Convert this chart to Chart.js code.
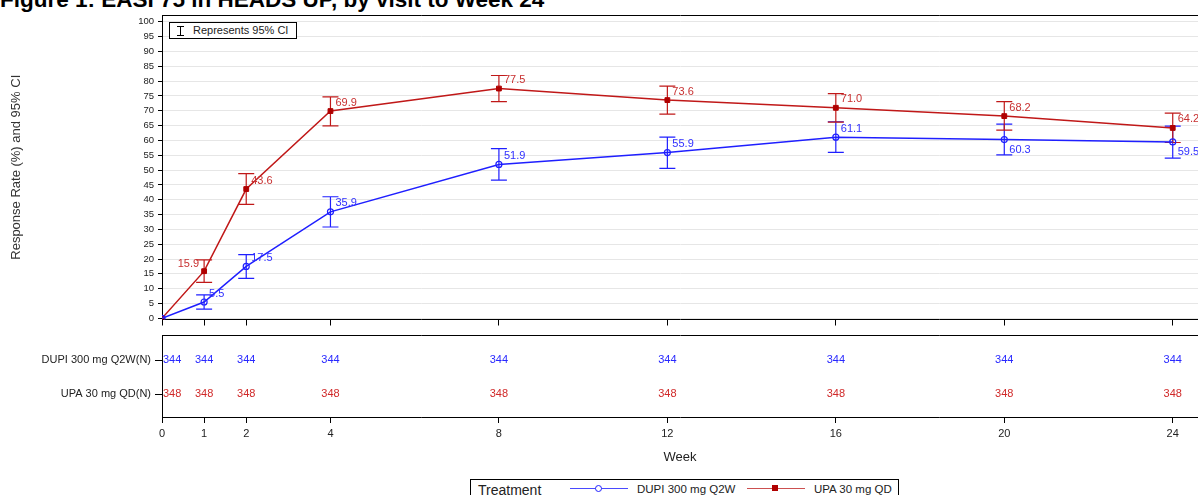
<!DOCTYPE html>
<html>
<head>
<meta charset="utf-8">
<script src="https://cdn.jsdelivr.net/npm/chart.js@4.4.1/dist/chart.umd.min.js"></script>
<style>
body { margin:0; width:1198px; height:495px; overflow:hidden; background:#fff; position:relative; font-family:"Liberation Sans", Arial, sans-serif; }
#titre { position:absolute; left:0; top:-11px; font-size:22.5px; line-height:22px; font-weight:bold; white-space:nowrap; color:#000; }
#courbe { position:absolute; left:0; top:0; }
#tableau { position:absolute; left:0; top:325px; }
#ci { position:absolute; left:169px; top:22px; width:126px; height:15px; border:1px solid #000; background:#fff; font-size:11px; line-height:15px; color:#222; }
#ci .barre { position:absolute; left:7px; top:3px; width:7px; height:8px; border-top:1px solid #000; border-bottom:1px solid #000; }
#ci .barre:after { content:""; position:absolute; left:3px; top:0; width:1px; height:8px; background:#000; }
#ci .txt { position:absolute; left:23px; top:0; white-space:nowrap; }
#legende { position:absolute; left:470px; top:479px; width:427px; height:30px; border:1px solid #000; border-bottom:none; font-size:11.5px; color:#222; }
#legende span { position:absolute; white-space:nowrap; }
.trait { position:absolute; height:1px; }
</style>
</head>
<body>
<div id="titre">Figure 1: EASI 75 in HEADS UP, by visit to Week 24</div>
<canvas id="courbe" width="1198" height="330"></canvas>
<canvas id="tableau" width="1198" height="144"></canvas>
<div id="ci"><div class="barre"></div><div class="txt">Represents 95% CI</div></div>
<div id="legende">
  <span style="left:7px; top:2px; font-size:14px;">Treatment</span>
  <div class="trait" style="left:99px; top:8px; width:58px; background:#4a4aff;"></div>
  <div style="position:absolute; left:124px; top:5px; width:5px; height:5px; border:1px solid #2020ff; border-radius:50%; background:#fff;"></div>
  <span style="left:166px; top:3px;">DUPI 300 mg Q2W</span>
  <div class="trait" style="left:276px; top:8px; width:58px; background:#cc5050;"></div>
  <div style="position:absolute; left:301px; top:5px; width:6px; height:6px; background:#b00000;"></div>
  <span style="left:343px; top:3px;">UPA 30 mg QD</span>
</div>
<script>
// Donnees
const semaines = [0, 1, 2, 4, 8, 12, 16, 20, 24];
const traitements = ["DUPI 300 mg Q2W", "UPA 30 mg QD"];
const dupiTaux = [0, 5.5, 17.5, 35.9, 51.9, 55.9, 61.1, 60.3, 59.5];
const dupiBas = [null, 3.1, 13.5, 30.8, 46.6, 50.6, 56.0, 55.1, 54.0];
const dupiHaut = [null, 7.9, 21.5, 41.0, 57.2, 61.1, 66.3, 65.5, 64.8];
const upaTaux = [0, 15.9, 43.6, 69.9, 77.5, 73.6, 71.0, 68.2, 64.2];
const upaBas = [null, 12.1, 38.4, 64.9, 73.1, 68.9, 66.2, 63.5, 59.3];
const upaHaut = [null, 19.7, 48.8, 74.7, 81.9, 78.3, 75.8, 73.1, 69.2];
const dupiN = [344, 344, 344, 344, 344, 344, 344, 344, 344];
const upaN = [348, 348, 348, 348, 348, 348, 348, 348, 348];
const graduationsY = [0, 5, 10, 15, 20, 25, 30, 35, 40, 45, 50, 55, 60, 65, 70, 75, 80, 85, 90, 95, 100];

const bleu = "#1f1fff";
const rouge = "#c01818";
const police = "'Liberation Sans', Arial, sans-serif";
Chart.defaults.font.family = police;
Chart.defaults.color = "#222";

// lignes du tableau des effectifs (position verticale dans le panneau du bas)
const lignesTableau = [3, 7.2];

// Barres d'erreur (IC 95%) dessinees via les echelles du graphique
const barresErreur = {
    id: "barresErreur",
    beforeDatasetsDraw(chart) {
        const { ctx, scales: { x, y } } = chart;
        const series = [[dupiBas, dupiHaut, bleu], [upaBas, upaHaut, rouge]];
        ctx.save();
        ctx.lineWidth = 1.2;
        for (let [bas, haut, couleur] of series) {
            ctx.strokeStyle = couleur;
            for (let i = 0; i < semaines.length; i++) {
                if (bas[i] == null) continue;
                const px = x.getPixelForValue(semaines[i]);
                const y1 = y.getPixelForValue(bas[i]);
                const y2 = y.getPixelForValue(haut[i]);
                ctx.beginPath();
                ctx.moveTo(px, y1); ctx.lineTo(px, y2);
                ctx.moveTo(px - 8, y1); ctx.lineTo(px + 8, y1);
                ctx.moveTo(px - 8, y2); ctx.lineTo(px + 8, y2);
                ctx.stroke();
            }
        }
        ctx.restore();
    }
};

// Etiquettes des valeurs a cote des points
const etiquettes = {
    id: "etiquettes",
    afterDatasetsDraw(chart) {
        const ctx = chart.ctx;
        const couleurs = ["#3030ff", "#c83030"];
        ctx.save();
        ctx.font = "11px " + police;
        ctx.textBaseline = "middle";
        chart.data.datasets.forEach((ds, d) => {
            const meta = chart.getDatasetMeta(d);
            ctx.fillStyle = couleurs[d];
            meta.data.forEach((pt, i) => {
                if (i === 0) return; // pas d'etiquette a la semaine 0
                const texte = ds.data[i].y.toFixed(1);
                if (d === 1 && i === 1) { // 15.9 a gauche du point
                    ctx.textAlign = "right";
                    ctx.fillText(texte, pt.x - 5, pt.y - 7);
                } else if (d === 0 && i >= 7) { // 60.3 et 59.5 en dessous
                    ctx.textAlign = "left";
                    ctx.fillText(texte, pt.x + 5, pt.y + 10);
                } else {
                    ctx.textAlign = "left";
                    ctx.fillText(texte, pt.x + 5, pt.y - 8.5);
                }
            });
        });
        ctx.restore();
    }
};

// Graphique principal
const graphiqueTaux = new Chart(document.querySelector("#courbe"), {
    type: "line",
    data: {
        datasets: [{
            label: traitements[0],
            data: semaines.map((s, i) => ({ x: s, y: dupiTaux[i] })),
            borderColor: bleu,
            borderWidth: 1.5,
            pointStyle: "circle",
            pointRadius: 3,
            pointBorderWidth: 1.2,
            pointBorderColor: bleu,
            pointBackgroundColor: "rgba(0,0,0,0)",
            tension: 0
        }, {
            label: traitements[1],
            data: semaines.map((s, i) => ({ x: s, y: upaTaux[i] })),
            borderColor: rouge,
            borderWidth: 1.5,
            pointStyle: "rect",
            pointRadius: 3.4,
            pointBorderWidth: 1,
            pointBorderColor: "#b00000",
            pointBackgroundColor: "#b00000",
            tension: 0
        }]
    },
    options: {
        responsive: false,
        animation: false,
        layout: { autoPadding: false, padding: { top: 15, left: 0, right: 0, bottom: 0 } },
        plugins: { legend: { display: false }, tooltip: { enabled: false } },
        scales: {
            x: {
                type: "linear", min: 0, max: 24.6,
                afterBuildTicks: s => { s.ticks = semaines.map(v => ({ value: v })); },
                afterFit: s => { s.height = 10.5; },
                ticks: { display: false },
                grid: { drawOnChartArea: false, tickLength: 6, tickColor: "#000" },
                border: { color: "#000", width: 1 }
            },
            x2: {
                type: "linear", position: "top", min: 0, max: 24.6,
                afterFit: s => { s.height = 0; },
                ticks: { display: false },
                grid: { display: false },
                border: { display: true, color: "#000", width: 1 }
            },
            y: {
                min: -0.4, max: 102.3,
                afterBuildTicks: s => { s.ticks = graduationsY.map(v => ({ value: v })); },
                afterFit: s => { s.width = 162; },
                ticks: { font: { size: 9.5 }, padding: 4, color: "#222" },
                grid: { color: "#e6e6e6", tickLength: 4, tickColor: "#000" },
                border: { color: "#000", width: 1 },
                title: { display: true, text: "Response Rate (%) and 95% CI", font: { size: 13 }, color: "#333", padding: { top: 9, bottom: 0 } }
            }
        }
    },
    plugins: [barresErreur, etiquettes]
});

// Effectifs (N) ecrits a chaque semaine
const effectifs = {
    id: "effectifs",
    afterDatasetsDraw(chart) {
        const { ctx, chartArea } = chart;
        const valeurs = [dupiN, upaN];
        const couleurs = ["#2828ff", "#d02828"];
        ctx.save();
        ctx.font = "11px " + police;
        ctx.textBaseline = "middle";
        chart.data.datasets.forEach((ds, d) => {
            ctx.fillStyle = couleurs[d];
            chart.getDatasetMeta(d).data.forEach((pt, i) => {
                const texte = String(valeurs[d][i]);
                const w = ctx.measureText(texte).width;
                let gauche = pt.x - w / 2;
                if (gauche < chartArea.left + 1) gauche = chartArea.left + 1;
                ctx.textAlign = "left";
                ctx.fillText(texte, gauche, pt.y);
            });
        });
        ctx.restore();
    }
};

const graphiqueTableau = new Chart(document.querySelector("#tableau"), {
    type: "scatter",
    data: {
        datasets: [{
            data: semaines.map(s => ({ x: s, y: lignesTableau[0] })),
            pointRadius: 0
        }, {
            data: semaines.map(s => ({ x: s, y: lignesTableau[1] })),
            pointRadius: 0
        }]
    },
    options: {
        responsive: false,
        animation: false,
        layout: { autoPadding: false, padding: { top: 6, left: 0, right: 0, bottom: 0 } },
        plugins: { legend: { display: false }, tooltip: { enabled: false } },
        scales: {
            x: {
                type: "linear", min: 0, max: 24.6,
                afterBuildTicks: s => { s.ticks = semaines.map(v => ({ value: v })); },
                afterFit: s => { s.height = 52; },
                ticks: { font: { size: 11 }, padding: 4, color: "#222", maxRotation: 0 },
                grid: { drawOnChartArea: false, tickLength: 6, tickColor: "#000" },
                border: { color: "#000", width: 1 },
                title: { display: true, text: "Week", font: { size: 13 }, color: "#222", padding: { top: 0, bottom: 4 } }
            },
            x2: {
                type: "linear", position: "top", min: 0, max: 24.6,
                afterFit: s => { s.height = 0; },
                ticks: { display: false },
                grid: { display: false },
                border: { display: true, color: "#000", width: 1 }
            },
            y: {
                min: 0, max: 10, reverse: true,
                afterBuildTicks: s => { s.ticks = lignesTableau.map(v => ({ value: v })); },
                afterFit: s => { s.width = 162; },
                ticks: {
                    font: { size: 11 }, padding: 4, color: "#222",
                    callback: v => v === lignesTableau[0] ? traitements[0] + "(N)" : traitements[1] + "(N)"
                },
                grid: { drawOnChartArea: false, tickLength: 7, tickColor: "#000" },
                border: { color: "#000", width: 1 }
            }
        }
    },
    plugins: [effectifs]
});
</script>
</body>
</html>
